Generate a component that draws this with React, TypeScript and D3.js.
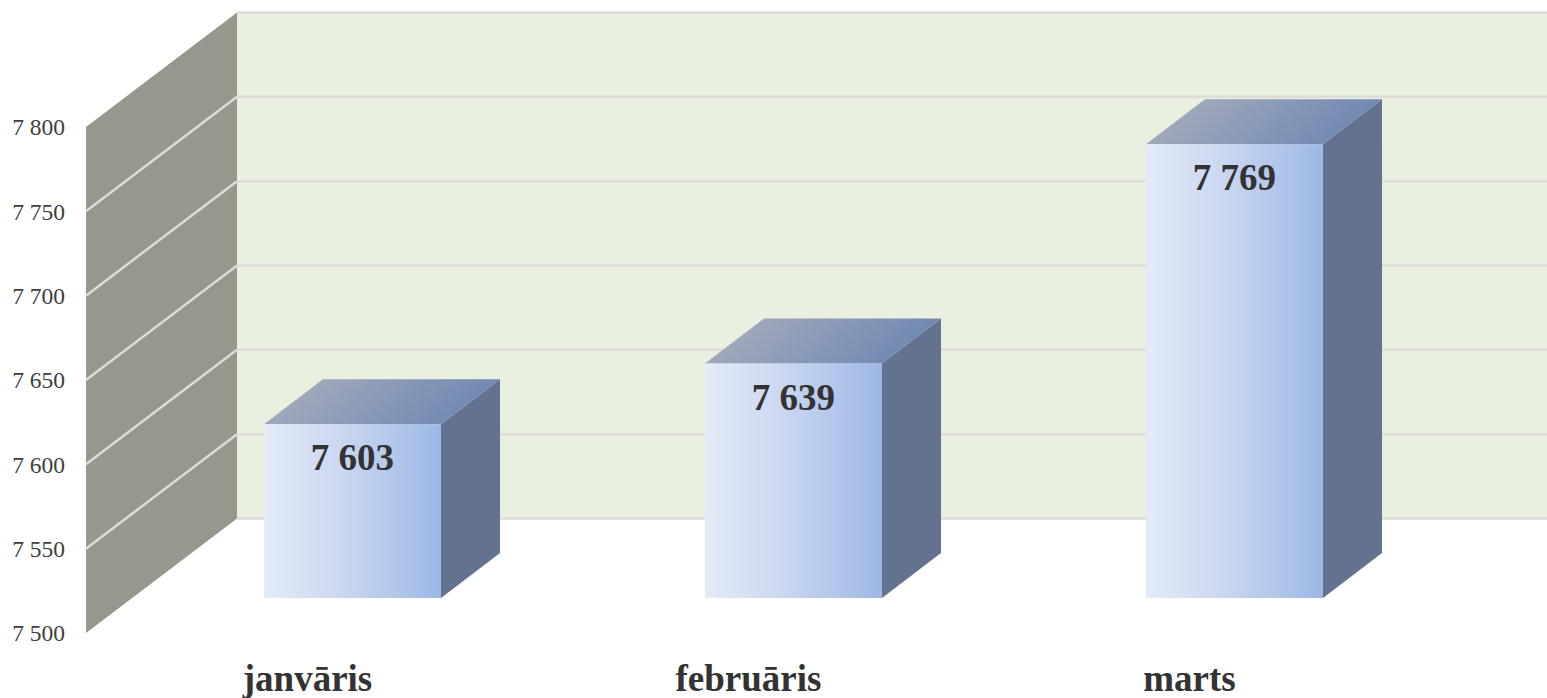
import { useEffect, useRef } from "react";
import * as d3 from "d3";

const categories = ["janvāris", "februāris", "marts"];
const values = [7603, 7639, 7769];
const yTicks = [7500, 7550, 7600, 7650, 7700, 7750, 7800];

const WIDTH = 1547;
const HEIGHT = 698;

export default function App() {
  const svgRef = useRef<SVGSVGElement>(null);

  useEffect(() => {
    if (!svgRef.current) return;

    const svg = d3.select(svgRef.current);
    svg.selectAll("*").remove();

    // front plane of the 3d box, the back wall is shifted by depth
    const plot = { left: 86, right: 1409, top: 127, bottom: 633 };
    const depth = { x: 151, y: -114.5 };
    const barGap = { x: 46, y: -35 };
    const barDepth = { x: 59, y: -45 };

    const yScale = d3
      .scaleLinear()
      .domain([7500, 7800])
      .range([plot.bottom, plot.top]);
    const xScale = d3
      .scaleBand<string>()
      .domain(categories)
      .range([plot.left, plot.right])
      .paddingInner(0.5986)
      .paddingOuter(0.2993);

    const fmt = d3.formatLocale({
      decimal: ",",
      thousands: " ",
      grouping: [3],
      currency: ["", ""],
    }).format(",d");

    const defs = svg.append("defs");
    const front = defs
      .append("linearGradient")
      .attr("id", "barFront");
    front.append("stop").attr("offset", "0%").attr("stop-color", "#e4ebf8");
    front.append("stop").attr("offset", "45%").attr("stop-color", "#c9d7f0");
    front.append("stop").attr("offset", "100%").attr("stop-color", "#9db8e6");
    const top = defs
      .append("linearGradient")
      .attr("id", "barTop")
      .attr("x1", "5%")
      .attr("y1", "0%")
      .attr("x2", "100%")
      .attr("y2", "20%");
    top.append("stop").attr("offset", "0%").attr("stop-color", "#a9afbd");
    top.append("stop").attr("offset", "100%").attr("stop-color", "#6f88b2");

    const line = d3.line<[number, number]>();
    const y0 = yScale(7500);
    const y1 = yScale(7800);

    // back wall
    svg
      .append("rect")
      .attr("x", plot.left + depth.x)
      .attr("y", y1 + depth.y)
      .attr("width", WIDTH - plot.left - depth.x)
      .attr("height", y0 - y1)
      .attr("fill", "#e9f0df");

    // side wall
    svg
      .append("path")
      .attr(
        "d",
        line([
          [plot.left, y0],
          [plot.left + depth.x, y0 + depth.y],
          [plot.left + depth.x, y1 + depth.y],
          [plot.left, y1],
        ]) + "Z"
      )
      .attr("fill", "#95988c");

    // gridlines on both walls
    svg
      .selectAll(".grid-back")
      .data(yTicks)
      .join("line")
      .attr("class", "grid-back")
      .attr("x1", plot.left + depth.x)
      .attr("x2", WIDTH)
      .attr("y1", (d) => yScale(d) + depth.y)
      .attr("y2", (d) => yScale(d) + depth.y)
      .attr("stroke", "#dcdcd8")
      .attr("stroke-width", 2.5);

    svg
      .selectAll(".grid-side")
      .data(yTicks.slice(1, -1))
      .join("line")
      .attr("class", "grid-side")
      .attr("x1", plot.left)
      .attr("x2", plot.left + depth.x)
      .attr("y1", (d) => yScale(d))
      .attr("y2", (d) => yScale(d) + depth.y)
      .attr("stroke", "#dcdcd8")
      .attr("stroke-width", 2.5);

    svg
      .selectAll(".tick-label")
      .data(yTicks)
      .join("text")
      .attr("class", "tick-label")
      .attr("x", 65)
      .attr("y", (d) => yScale(d))
      .attr("dy", "0.36em")
      .attr("text-anchor", "end")
      .attr("font-family", "'Liberation Serif', serif")
      .attr("font-size", 23.5)
      .attr("fill", "#404040")
      .text((d) => fmt(d));

    const bw = xScale.bandwidth();
    const bars = svg
      .selectAll(".bar")
      .data(categories.map((c, i) => ({ c, v: values[i] })))
      .join("g")
      .attr("class", "bar")
      .attr(
        "transform",
        (d) => `translate(${xScale(d.c)! + barGap.x},${barGap.y})`
      );

    // right side
    bars
      .append("path")
      .attr(
        "d",
        (d) =>
          line([
            [bw, y0],
            [bw + barDepth.x, y0 + barDepth.y],
            [bw + barDepth.x, yScale(d.v) + barDepth.y],
            [bw, yScale(d.v)],
          ]) + "Z"
      )
      .attr("fill", "#62728f");

    // top
    bars
      .append("path")
      .attr(
        "d",
        (d) =>
          line([
            [0, yScale(d.v)],
            [barDepth.x, yScale(d.v) + barDepth.y],
            [bw + barDepth.x, yScale(d.v) + barDepth.y],
            [bw, yScale(d.v)],
          ]) + "Z"
      )
      .attr("fill", "url(#barTop)");

    // front
    bars
      .append("rect")
      .attr("x", 0)
      .attr("y", (d) => yScale(d.v))
      .attr("width", bw)
      .attr("height", (d) => y0 - yScale(d.v))
      .attr("fill", "url(#barFront)");

    bars
      .append("text")
      .attr("x", bw / 2)
      .attr("y", (d) => yScale(d.v) + 46)
      .attr("text-anchor", "middle")
      .attr("font-family", "'Liberation Serif', serif")
      .attr("font-size", 37)
      .attr("font-weight", "bold")
      .attr("fill", "#333333")
      .text((d) => fmt(d.v));

    svg
      .selectAll(".cat-label")
      .data(categories)
      .join("text")
      .attr("class", "cat-label")
      .attr("x", (d) => xScale(d)! + bw / 2 + 1)
      .attr("y", 691)
      .attr("text-anchor", "middle")
      .attr("font-family", "'Liberation Serif', serif")
      .attr("font-size", 37)
      .attr("font-weight", "bold")
      .attr("fill", "#333333")
      .text((d) => d);
  }, []);

  return (
    <svg
      ref={svgRef}
      width={WIDTH}
      height={HEIGHT}
      style={{ position: "absolute", left: 0, top: 0, display: "block" }}
      role="img"
      aria-label="3D column chart by month"
    />
  );
}
